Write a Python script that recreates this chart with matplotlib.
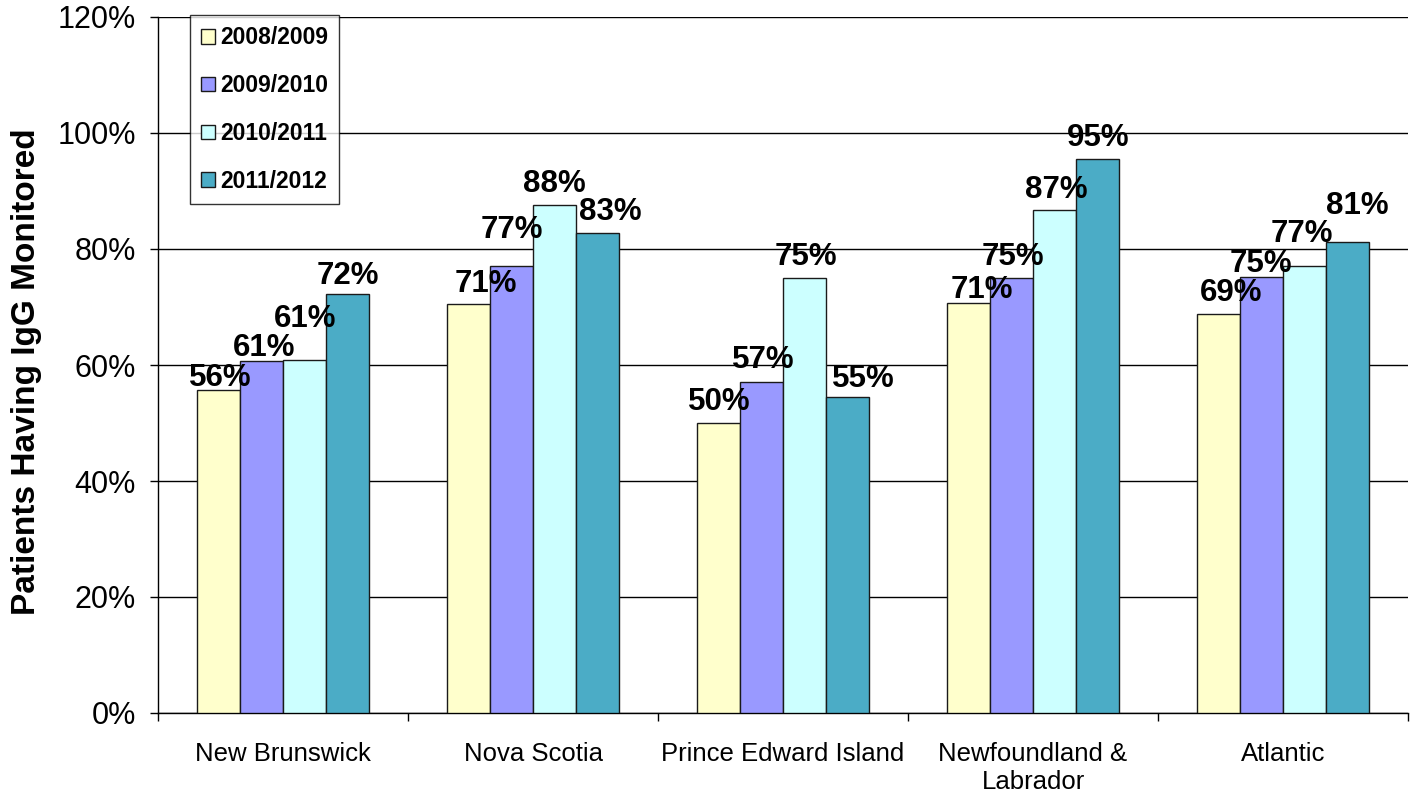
import matplotlib.pyplot as plt
import numpy as np
from matplotlib.ticker import FixedLocator

regions = ['New Brunswick', 'Nova Scotia', 'Prince Edward Island',
           'Newfoundland &\nLabrador', 'Atlantic']
years = ['2008/2009', '2009/2010', '2010/2011', '2011/2012']

# percent of patients having IgG monitored, per year
v_0809 = [55.7, 70.5, 50.0, 70.7, 68.8]
v_0910 = [60.7, 77.1, 57.1, 75.0, 75.2]
v_1011 = [60.9, 87.6, 75.0, 86.7, 77.1]
v_1112 = [72.2, 82.8, 54.5, 95.5, 81.2]
labels_0809 = ['56%', '71%', '50%', '71%', '69%']
labels_0910 = ['61%', '77%', '57%', '75%', '75%']
labels_1011 = ['61%', '88%', '75%', '87%', '77%']
labels_1112 = ['72%', '83%', '55%', '95%', '81%']

# hand-placed label nudges (pixels): dx, gap above bar top
nudge_x = [[2, 17, 1, 13, 13], [3, 0, 1.5, 1.5, -1],
           [1, 0, 1, 1.5, -3], [0, 13, 16, 1, 10]]
nudge_y = [[4, 12, 13, 5, 13], [5, 28, 14, 13, 5],
           [33, 13, 13, 12, 24], [10, 13, 10, 13, 28]]

colors = ['#FFFFCC', '#9999FF', '#CCFFFF', '#4BACC6']

plt.rcParams['font.family'] = ['Liberation Sans', 'DejaVu Sans']

fig = plt.figure(figsize=(14.14, 7.92), dpi=100)
ax = fig.add_axes([158 / 1414, 1 - 713 / 792, 1250 / 1414, 696 / 792])

x = np.arange(len(regions))
w = 0.172
series = [v_0809, v_0910, v_1011, v_1112]
texts = [labels_0809, labels_0910, labels_1011, labels_1112]
for i, (vals, labs) in enumerate(zip(series, texts)):
    pos = x + (i - 1.5) * w
    ax.bar(pos, vals, width=w, color=colors[i], edgecolor='#1a1a1a',
           linewidth=1.0, label=years[i], zorder=3)
    for j, (p, v, t) in enumerate(zip(pos, vals, labs)):
        ax.annotate(t, (p, v), xytext=(nudge_x[i][j], nudge_y[i][j]),
                    textcoords='offset pixels', ha='center', va='baseline',
                    fontsize=22.5, fontweight='bold', zorder=4)

ax.set_xlim(-0.5, 4.5)
ax.set_ylim(0, 120)
ax.set_yticks(range(0, 121, 20))
ax.set_yticklabels([f'{t}%' for t in range(0, 121, 20)], fontsize=22)
ax.yaxis.grid(True, color='black', linewidth=1.0, zorder=0)
ax.tick_params(axis='y', length=6, width=1, pad=10)

ax.set_xticks(x)
ax.set_xticklabels(regions, fontsize=18.5)
ax.xaxis.set_minor_locator(FixedLocator(np.arange(-0.5, 4.6, 1.0)))
ax.tick_params(axis='x', which='major', length=0, pad=21)
ax.tick_params(axis='x', which='minor', length=6, width=1)

for s in ['top', 'right']:
    ax.spines[s].set_visible(False)
for s in ['left', 'bottom']:
    ax.spines[s].set_linewidth(1.0)
    ax.spines[s].set_color('black')

ax.set_ylabel('Patients Having IgG Monitored', fontsize=24,
              fontweight='bold')
ax.yaxis.set_label_coords(-0.093, 0.49)

leg = ax.legend(loc='upper left', bbox_to_anchor=(190 / 1414, 1 - 15 / 792),
                bbox_transform=fig.transFigure,
                prop={'weight': 'bold', 'size': 16.5},
                frameon=True, fancybox=False, edgecolor='black',
                handlelength=0.6, handleheight=0.6, handletextpad=0.2,
                labelspacing=1.08, borderpad=0.5, borderaxespad=0)
leg.get_frame().set_linewidth(1.0)
leg.set_zorder(5)

fig.savefig('out.png', dpi=100)
